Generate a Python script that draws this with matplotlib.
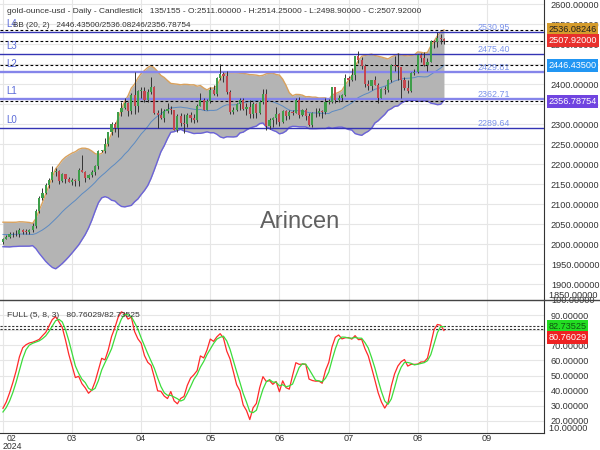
import numpy as np
import pandas as pd
import matplotlib
matplotlib.use("Agg")
import matplotlib.pyplot as plt
from matplotlib.lines import Line2D
from matplotlib.transforms import blended_transform_factory

plt.rcParams['font.family'] = ['Liberation Sans', 'DejaVu Sans']

# daily OHLC, 2024-01-19 .. 2024-08-22 (first 20 bars only feed the indicators)
opens = [2023, 2029, 2022, 2029, 2014, 2020, 2018, 2033, 2037, 2039,
         2054, 2039, 2025, 2035, 2034, 2034, 2024, 2020, 1992, 1992,
         # Feb 16 -
         2004, 2013, 2017, 2024, 2025, 2024, 2035, 2031, 2030, 2034,
         # Mar
         2044, 2083, 2114, 2128, 2148, 2159, 2179, 2182, 2158, 2175,
         2162, 2155, 2160, 2157, 2186, 2181, 2165, 2172, 2179, 2194, 2233,
         # Apr
         2233, 2251, 2280, 2300, 2290, 2330, 2339, 2352, 2333, 2373,
         2344, 2383, 2383, 2361, 2379, 2392, 2327, 2322, 2316, 2332, 2337, 2335,
         # May
         2286, 2320, 2303, 2301, 2323, 2314, 2309, 2346, 2360, 2336,
         2358, 2386, 2376, 2414, 2425, 2421, 2379, 2329, 2334, 2351, 2361, 2338, 2343,
         # Jun
         2326, 2350, 2327, 2355, 2375, 2294, 2311, 2316, 2324, 2304,
         2333, 2319, 2330, 2328, 2360, 2322, 2334, 2320, 2298, 2327,
         # Jul
         2327, 2332, 2330, 2356, 2356, 2392, 2359, 2364, 2372, 2415,
         2411, 2422, 2469, 2459, 2445, 2400, 2396, 2409, 2398, 2364, 2387, 2384, 2410,
         # Aug
         2448, 2446, 2443, 2409, 2390, 2382, 2427, 2431, 2472, 2465,
         2447, 2456, 2507, 2504, 2514, 2511.6]
highs = [2031, 2033, 2031, 2037, 2023, 2026, 2037, 2048, 2056, 2065,
         2066, 2040, 2040, 2039, 2044, 2039, 2032, 2031, 1996, 2008,
         2016, 2023, 2031, 2031, 2035, 2041, 2038, 2037, 2038, 2053,
         2088, 2120, 2141, 2152, 2165, 2195, 2189, 2185, 2178, 2175,
         2167, 2164, 2162, 2189, 2222, 2183, 2176, 2185, 2198, 2236, 2236,
         2266, 2281, 2305, 2305, 2331, 2354, 2365, 2354, 2378, 2431,
         2386, 2393, 2392, 2387, 2418, 2396, 2335, 2339, 2338, 2353, 2346, 2336,
         2326, 2327, 2324, 2327, 2329, 2324, 2351, 2378, 2364, 2362,
         2392, 2398, 2418, 2450, 2431, 2432, 2385, 2343, 2352, 2364, 2364, 2352, 2360,
         2354, 2352, 2359, 2388, 2387, 2315, 2318, 2342, 2327, 2336,
         2334, 2336, 2334, 2365, 2368, 2337, 2341, 2327, 2331, 2339,
         2339, 2334, 2365, 2363, 2392, 2393, 2372, 2376, 2424, 2419,
         2440, 2469, 2483, 2467, 2449, 2410, 2411, 2420, 2402, 2390, 2394, 2412, 2451,
         2471, 2477, 2443, 2418, 2411, 2431, 2437, 2474, 2477, 2479,
         2464, 2509, 2510, 2531, 2526, 2514.25]
lows = [2016, 2016, 2010, 2011, 2009, 2012, 2015, 2029, 2031, 2035,
        2030, 2015, 2020, 2027, 2025, 2021, 2018, 1990, 1984, 1989,
        1999, 2013, 2015, 2018, 2020, 2018, 2025, 2026, 2025, 2030,
        2039, 2078, 2109, 2125, 2141, 2154, 2171, 2150, 2154, 2152,
        2154, 2147, 2146, 2146, 2179, 2156, 2163, 2168, 2173, 2188, 2229,
        2228, 2245, 2272, 2280, 2268, 2321, 2337, 2319, 2325, 2326,
        2330, 2365, 2355, 2354, 2376, 2324, 2291, 2312, 2305, 2327, 2325, 2285,
        2280, 2296, 2277, 2292, 2305, 2303, 2306, 2344, 2334, 2335,
        2353, 2373, 2371, 2411, 2406, 2374, 2326, 2326, 2332, 2336, 2335, 2323, 2315,
        2314, 2316, 2325, 2351, 2286, 2287, 2293, 2301, 2295, 2302,
        2310, 2313, 2322, 2327, 2316, 2319, 2310, 2294, 2293, 2318,
        2319, 2316, 2325, 2351, 2353, 2353, 2354, 2357, 2370, 2394,
        2408, 2410, 2453, 2438, 2393, 2384, 2384, 2397, 2353, 2365, 2375, 2380, 2406,
        2433, 2410, 2364, 2384, 2377, 2381, 2422, 2427, 2456, 2446,
        2432, 2454, 2489, 2493, 2501, 2498.9]
closes = [2029, 2022, 2029, 2014, 2020, 2018, 2033, 2037, 2039, 2054,
          2039, 2025, 2035, 2034, 2034, 2024, 2020, 1992, 1992, 2004,
          2013, 2017, 2024, 2025, 2024, 2035, 2031, 2030, 2034, 2044,
          2083, 2114, 2128, 2148, 2159, 2179, 2182, 2158, 2175, 2162,
          2155, 2160, 2157, 2186, 2181, 2165, 2172, 2179, 2194, 2233, 2233,
          2251, 2280, 2300, 2290, 2330, 2339, 2352, 2333, 2373, 2344,
          2383, 2383, 2361, 2379, 2392, 2327, 2322, 2316, 2332, 2337, 2335, 2286,
          2320, 2303, 2301, 2323, 2314, 2309, 2346, 2360, 2336, 2358,
          2386, 2376, 2414, 2425, 2421, 2379, 2329, 2334, 2351, 2361, 2338, 2343, 2326,
          2350, 2327, 2355, 2375, 2294, 2311, 2316, 2324, 2304, 2333,
          2319, 2330, 2328, 2360, 2322, 2334, 2320, 2298, 2327, 2327,
          2332, 2330, 2356, 2356, 2392, 2359, 2364, 2372, 2415, 2411,
          2422, 2469, 2459, 2445, 2400, 2396, 2409, 2398, 2364, 2387, 2384, 2410, 2448,
          2446, 2443, 2409, 2390, 2382, 2427, 2431, 2472, 2465, 2447,
          2456, 2507, 2504, 2514, 2512, 2507.92]

warmup = 20
levels = [2289.64, 2362.71, 2429.81, 2475.40, 2530.95]
level_names = ['L0', 'L1', 'L2', 'L3', 'L4']
bb_last = [2446.43500, 2536.08246, 2356.78754]   # mid / upper / lower
close_last = 2507.92000
stoch_last = [80.76029, 82.73525]                # %K / %D
month_labels = ['02\n2024', '03', '04', '05', '06', '07', '08', '09']
title = ('gold-ounce-usd - Daily - Candlestick   135/155 - O:2511.60000 - '
         'H:2514.25000 - L:2498.90000 - C:2507.92000')

df = pd.DataFrame({'o': opens, 'h': highs, 'l': lows, 'c': closes})
df.index = np.arange(len(df)) - warmup

# Bollinger (20, 2)
mid = df.c.rolling(20).mean()
sd = df.c.rolling(20).std(ddof=0)
upper = mid + 2 * sd
lower = mid - 2 * sd

# Full stochastic (5, 8, 3)
hh = df.h.rolling(5).max()
ll = df.l.rolling(5).min()
raw = 100 * (df.c - ll) / (hh - ll)
k = raw.rolling(8).mean()
d = k.rolling(3).mean()

v = df.index >= 0
x = df.index[v]
dv = df[v]

fig = plt.figure(figsize=(6, 4.5), dpi=100)
ax1 = fig.add_axes([0, 150 / 450, 544 / 600, 300 / 450])
ax2 = fig.add_axes([0, 17 / 450, 544 / 600, 133 / 450])

fs = 6.6
tick_pos = np.arange(0, 148, 21)
for ax in (ax1, ax2):
    ax.set_xlim(-0.9, 164.4)
    ax.yaxis.tick_right()
    ax.tick_params(length=0, labelsize=fs, colors='#333333', pad=5)
    for s in ax.spines.values():
        s.set_visible(False)
    ax.spines['right'].set_visible(True)
    ax.spines['right'].set_color('#333333')
    ax.set_xticks(tick_pos)
    ax.grid(True, color='#e6e6e6', lw=0.8)
    ax.set_axisbelow(True)
ax2.spines['bottom'].set_visible(True)
ax2.spines['bottom'].set_color('#333333')
ax1.set_xticklabels([])
ax2.set_xticklabels([''] + month_labels[1:])
ax2.tick_params(axis='x', pad=1)
# first month label is pushed in from the left edge
ax2.annotate(month_labels[0], xy=(2.7, 0), xycoords=blended_transform_factory(ax2.transData, ax2.transAxes),
             xytext=(0, -0.5), textcoords='offset points', ha='center', va='top',
             fontsize=6.3, color='#333333', linespacing=0.95, annotation_clip=False)

# ---- price panel
ax1.set_ylim(1860, 2610)
ax1.set_yticks(np.arange(1900, 2601, 50))
ax1.yaxis.set_major_formatter(matplotlib.ticker.FormatStrFormatter('%.5f'))
bt = blended_transform_factory(ax1.transAxes, ax1.transData)
ax1.text(1.0, 1860, '  1850.00000', transform=bt, fontsize=fs, color='#333333', va='bottom', ha='left')

ax1.fill_between(x, lower[v], upper[v], color='#b4b4b4', lw=0, zorder=1)
ax1.plot(x, upper[v], color='#d9a15c', lw=1.0, zorder=2)
ax1.plot(x, lower[v], color='#6b63d9', lw=1.0, zorder=2)
ax1.plot(x, mid[v], color='#5b8ac2', lw=0.7, zorder=2)

for lv, nm in zip(levels, level_names):
    light = nm in ('L1', 'L2')
    ax1.axhline(lv, color='#8585ea' if light else '#3434b4', lw=1.7 if light else 1.0, zorder=3)
    ax1.annotate(nm, xy=(0.011, lv), xycoords=bt, xytext=(0, 2), textcoords='offset points',
                 fontsize=7, color='#5a6ad8', va='bottom', ha='left', zorder=6)
    ax1.annotate('%.2f' % lv, xy=(0.908, lv), xycoords=bt, xytext=(0, 0), textcoords='offset points',
                 fontsize=6.4, color='#7b93ea', va='bottom', ha='center', zorder=6)

for val in bb_last + [close_last]:
    ax1.axhline(val, color='black', lw=0.8, ls=(0, (2.5, 2)), zorder=4)

up = dv.c >= dv.o
cols = np.where(up, '#3e9e4a', '#c4474f')
ax1.vlines(x, dv.l, dv.h, color='#333333', lw=0.7, zorder=5)
ax1.bar(x, np.maximum((dv.c - dv.o).abs(), 1.5), bottom=np.minimum(dv.o, dv.c),
        width=0.65, color=cols, lw=0, zorder=6)

boxes = [(bb_last[1], '#d59c2c', '#222222'), (close_last, '#e8302c', 'white'),
         (bb_last[0], '#2196f3', 'white'), (bb_last[2], '#7044e0', 'white')]
for val, bg, fg in boxes:
    ax1.text(1.008, val, '%.5f' % val, transform=bt, fontsize=fs, color=fg, va='center', ha='left',
             bbox=dict(boxstyle='square,pad=0.2', fc=bg, ec='none'), zorder=10, clip_on=False)

ax1.text(0.013, 0.963, title, transform=ax1.transAxes, fontsize=6.0, color='#333333', va='center')
ax1.text(0.024, 0.915, 'BB (20, 2)   %.5f/%.5f/%.5f' % tuple(bb_last), transform=ax1.transAxes,
         fontsize=5.9, color='#333333', va='center', zorder=7)
ax1.text(0.551, 0.26, 'Arincen', transform=ax1.transAxes, fontsize=17, color='#606060',
         ha='center', va='center', zorder=8)

# ---- stochastic panel
ax2.set_ylim(12, 100)
ax2.set_yticks(np.arange(20, 101, 10))
ax2.yaxis.set_major_formatter(matplotlib.ticker.FormatStrFormatter('%.5f'))
bt2 = blended_transform_factory(ax2.transAxes, ax2.transData)
ax2.text(1.0, 12, '  10.00000', transform=bt2, fontsize=fs, color='#333333', va='bottom', ha='left')
ax2.plot(x, k[v], color='#ff2a2a', lw=0.9, zorder=3)
ax2.plot(x, d[v], color='#3cdc3c', lw=0.9, zorder=3)
for val in stoch_last:
    ax2.axhline(val, color='#333333', lw=0.8, ls=(0, (2, 1.5)), zorder=2)
for val, bg, fg, off in [(stoch_last[1], '#22dd22', '#115511', 0), (stoch_last[0], '#ee2222', 'white', -6)]:
    ax2.annotate('%.5f' % val, xy=(1.008, val), xycoords=bt2, xytext=(0, off), textcoords='offset points',
                 fontsize=fs, color=fg, va='center', ha='left', annotation_clip=False,
                 bbox=dict(boxstyle='square,pad=0.2', fc=bg, ec='none'), zorder=10)
ax2.text(0.013, 0.88, 'FULL (5, 8, 3)   %.5f/%.5f' % tuple(stoch_last), transform=ax2.transAxes,
         fontsize=6.1, color='#333333', va='center')

fig.add_artist(Line2D([0, 1], [150 / 450, 150 / 450], transform=fig.transFigure, color='#444444', lw=1))

fig.savefig('out.png', dpi=100)
